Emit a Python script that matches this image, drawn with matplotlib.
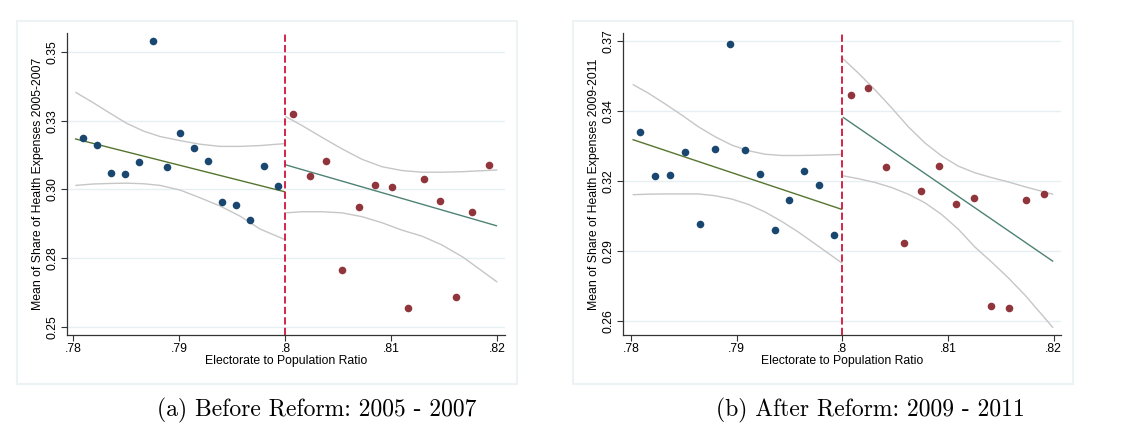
import numpy as np
import matplotlib
matplotlib.use("Agg")
import matplotlib.pyplot as plt
from matplotlib.patches import Rectangle

plt.rcParams['font.family'] = ['Liberation Sans', 'DejaVu Sans']

# ---- panel (a): before reform 2005-2007 ----
a_below_x = [0.78087, 0.78219, 0.78351, 0.78486, 0.78615, 0.78747, 0.78879, 0.79008,
             0.79140, 0.79272, 0.79404, 0.79536, 0.79665, 0.79797, 0.79926]
a_below_y = [0.3186, 0.3162, 0.3061, 0.3055, 0.3099, 0.3541, 0.3082, 0.3206,
             0.3151, 0.3104, 0.2954, 0.2943, 0.2888, 0.3087, 0.3013]
a_above_x = [0.80074, 0.80228, 0.80379, 0.80536, 0.80693, 0.80847, 0.81002, 0.81153,
             0.81307, 0.81461, 0.81612, 0.81763, 0.81917]
a_above_y = [0.3274, 0.3050, 0.3105, 0.2706, 0.2937, 0.3016, 0.3008, 0.2567,
             0.3037, 0.2959, 0.2608, 0.2919, 0.3090]
a_fit_left_x = [0.7802, 0.7999]
a_fit_left_y = [0.3184, 0.2992]
a_fit_right_x = [0.8000, 0.8199]
a_fit_right_y = [0.3090, 0.2868]
a_ci_left_x = [0.78024, 0.78187, 0.78344, 0.78502, 0.78659, 0.78816, 0.79005, 0.79193,
               0.79382, 0.79571, 0.79760, 0.79992]
a_ci_left_hi = [0.3353, 0.3316, 0.3278, 0.3241, 0.3213, 0.3193, 0.3178, 0.3165,
                0.3157, 0.3157, 0.3160, 0.3167]
a_ci_left_lo = [0.3015, 0.3020, 0.3022, 0.3023, 0.3021, 0.3015, 0.2998, 0.2970,
                0.2940, 0.2903, 0.2856, 0.2818]
a_ci_right_x = [0.80005, 0.80156, 0.80344, 0.80533, 0.80722, 0.80910, 0.81099, 0.81288,
                0.81476, 0.81677, 0.81993]
a_ci_right_hi = [0.3265, 0.3233, 0.3190, 0.3148, 0.3110, 0.3083, 0.3069, 0.3063,
                 0.3063, 0.3065, 0.3071]
a_ci_right_lo = [0.2915, 0.2919, 0.2919, 0.2915, 0.2901, 0.2879, 0.2852, 0.2830,
                 0.2798, 0.2753, 0.2664]
a_yticks = [0.25, 0.275, 0.30, 0.325, 0.35]
a_yticklabels = ["0.25", "0.28", "0.30", "0.33", "0.35"]

# ---- panel (b): after reform 2009-2011 ----
b_below_x = [0.78085, 0.78227, 0.78369, 0.78511, 0.78653, 0.78792, 0.78934, 0.79076,
             0.79218, 0.79360, 0.79498, 0.79640, 0.79782, 0.79924]
b_below_y = [0.3340, 0.3170, 0.3174, 0.3261, 0.2981, 0.3274, 0.3688, 0.3270,
             0.3178, 0.2956, 0.3074, 0.3190, 0.3135, 0.2935]
b_above_x = [0.80082, 0.80246, 0.80413, 0.80580, 0.80748, 0.80912, 0.81079, 0.81246,
             0.81410, 0.81577, 0.81741, 0.81908]
b_above_y = [0.3487, 0.3513, 0.3202, 0.2906, 0.3111, 0.3207, 0.3057, 0.3082,
             0.2659, 0.2650, 0.3074, 0.3098]
b_fit_left_x = [0.7802, 0.7999]
b_fit_left_y = [0.3311, 0.3038]
b_fit_right_x = [0.8001, 0.8199]
b_fit_right_y = [0.3398, 0.2834]
b_ci_left_x = [0.78022, 0.78164, 0.78322, 0.78480, 0.78637, 0.78795, 0.78953, 0.79110,
               0.79268, 0.79426, 0.79584, 0.79741, 0.79994]
b_ci_left_hi = [0.3527, 0.3494, 0.3452, 0.3408, 0.3362, 0.3323, 0.3290, 0.3268,
                0.3254, 0.3249, 0.3249, 0.3250, 0.3253]
b_ci_left_lo = [0.3095, 0.3097, 0.3098, 0.3098, 0.3098, 0.3091, 0.3078, 0.3057,
                0.3027, 0.2990, 0.2948, 0.2902, 0.2827]
b_ci_right_x = [0.80009, 0.80151, 0.80309, 0.80467, 0.80624, 0.80782, 0.80940, 0.81098,
                0.81255, 0.81413, 0.81571, 0.81729, 0.81990]
b_ci_right_hi = [0.3628, 0.3573, 0.3507, 0.3436, 0.3362, 0.3298, 0.3247, 0.3207,
                 0.3181, 0.3162, 0.3145, 0.3126, 0.3097]
b_ci_right_lo = [0.3169, 0.3158, 0.3143, 0.3123, 0.3097, 0.3063, 0.3017, 0.2959,
                 0.2889, 0.2830, 0.2768, 0.2700, 0.2574]
b_yticks = [0.26, 0.2875, 0.315, 0.3425, 0.37]
b_yticklabels = ["0.26", "0.29", "0.32", "0.34", "0.37"]

xticks = [0.78, 0.79, 0.80, 0.81, 0.82]
xticklabels = [".78", ".79", ".8", ".81", ".82"]

NAVY = "#1a476f"
MAROON = "#90353b"
GREEN = "#55752f"
TEAL = "#4e8275"
BAND = "#c6c6c6"
GRID = "#e6eff2"
CUTOFF = "#d0143c"
FS = 8.8


def draw_panel(ax, d, ylabel, yticks, yticklabels, xlim, ylim):
    ax.set_xlim(*xlim)
    ax.set_ylim(*ylim)
    for t in yticks:
        ax.axhline(t, color=GRID, lw=1.0, zorder=0)
    ax.plot(d["ci_left_x"], d["ci_left_hi"], color=BAND, lw=1.0, zorder=1)
    ax.plot(d["ci_left_x"], d["ci_left_lo"], color=BAND, lw=1.0, zorder=1)
    ax.plot(d["ci_right_x"], d["ci_right_hi"], color=BAND, lw=1.0, zorder=1)
    ax.plot(d["ci_right_x"], d["ci_right_lo"], color=BAND, lw=1.0, zorder=1)
    ax.plot(d["fit_left_x"], d["fit_left_y"], color=GREEN, lw=1.0, zorder=2)
    ax.plot(d["fit_right_x"], d["fit_right_y"], color=TEAL, lw=1.0, zorder=2)
    ax.scatter(d["below_x"], d["below_y"], s=30, color=NAVY, zorder=3, linewidths=0)
    ax.scatter(d["above_x"], d["above_y"], s=30, color=MAROON, zorder=3, linewidths=0)
    ax.axvline(0.80, color=CUTOFF, lw=1.3, ls=(0, (4, 1.8)), zorder=4)

    ax.set_xticks(xticks)
    ax.set_xticklabels(xticklabels)
    ax.set_yticks(yticks)
    ax.set_yticklabels(yticklabels, rotation=90, va="center")
    ax.tick_params(axis="both", labelsize=FS, length=4, color="#333333", pad=2)
    ax.set_xlabel("Electorate to Population Ratio", fontsize=FS, labelpad=0)
    ax.set_ylabel(ylabel, fontsize=FS, labelpad=2)
    for s in ["top", "right"]:
        ax.spines[s].set_visible(False)
    for s in ["left", "bottom"]:
        ax.spines[s].set_color("#333333")
        ax.spines[s].set_linewidth(0.9)
    ax.set_facecolor("none")


fig = plt.figure(figsize=(11.39, 4.29), dpi=100)
W, H = 1139.0, 429.0

# faint outer frames of the two graphs
for x0, x1 in [(16.5, 517.3), (573.0, 1073.3)]:
    fig.patches.append(Rectangle((x0 / W, 1 - 384 / H), (x1 - x0) / W, (384 - 21) / H,
                                 transform=fig.transFigure, fill=False,
                                 edgecolor="#edf3f4", lw=1.5, zorder=0))

ax1 = fig.add_axes([66.7 / W, 1 - 335 / H, (505 - 66.7) / W, 302 / H])
ax2 = fig.add_axes([623.3 / W, 1 - 335 / H, (1061 - 623.3) / W, 302 / H])

panel_a = dict(below_x=a_below_x, below_y=a_below_y, above_x=a_above_x, above_y=a_above_y,
               fit_left_x=a_fit_left_x, fit_left_y=a_fit_left_y,
               fit_right_x=a_fit_right_x, fit_right_y=a_fit_right_y,
               ci_left_x=a_ci_left_x, ci_left_hi=a_ci_left_hi, ci_left_lo=a_ci_left_lo,
               ci_right_x=a_ci_right_x, ci_right_hi=a_ci_right_hi, ci_right_lo=a_ci_right_lo)
panel_b = dict(below_x=b_below_x, below_y=b_below_y, above_x=b_above_x, above_y=b_above_y,
               fit_left_x=b_fit_left_x, fit_left_y=b_fit_left_y,
               fit_right_x=b_fit_right_x, fit_right_y=b_fit_right_y,
               ci_left_x=b_ci_left_x, ci_left_hi=b_ci_left_hi, ci_left_lo=b_ci_left_lo,
               ci_right_x=b_ci_right_x, ci_right_hi=b_ci_right_hi, ci_right_lo=b_ci_right_lo)

draw_panel(ax1, panel_a, "Mean of Share of Health Expenses 2005-2007",
           a_yticks, a_yticklabels, (0.77936, 0.82071), (0.2470, 0.3570))
draw_panel(ax2, panel_b, "Mean of Share of Health Expenses 2009-2011",
           b_yticks, b_yticklabels, (0.77927, 0.82069), (0.25436, 0.37304))

fig.text(316.5 / W, 1 - 410 / H, "(a) Before Reform: 2005 - 2007", family="cmr10",
         fontsize=17, ha="center", va="center")
fig.text(870 / W, 1 - 410 / H, "(b) After Reform: 2009 - 2011", family="cmr10",
         fontsize=17, ha="center", va="center")

fig.savefig("out.png", dpi=100, facecolor="white")
